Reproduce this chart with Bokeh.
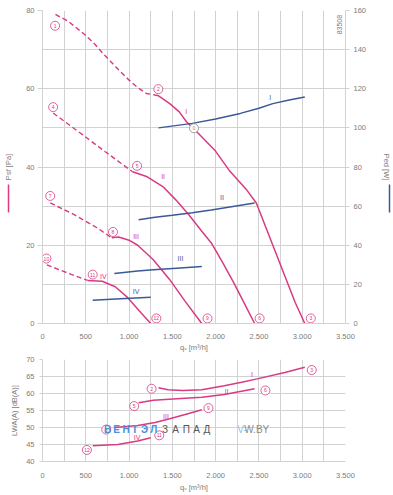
import math
from bokeh.plotting import figure
from bokeh.layouts import column
from bokeh.models import Range1d, LinearAxis, FixedTicker, Label
from bokeh.core.properties import value
from bokeh.embed import file_html
from bokeh.resources import INLINE

# ---------------- data ----------------
q_ticks = [0, 500, 1000, 1500, 2000, 2500, 3000, 3500]
q_minor = [250, 750, 1250, 1750, 2250, 2750, 3250]
q_tick_labels = ["0", "500", "1.000", "1.500", "2.000", "2.500", "3.000", "3.500"]
pa_ticks = [0, 20, 40, 60, 80]
pa_minor = [10, 30, 50, 70]
w_ticks = [0, 20, 40, 60, 80, 100, 120, 140, 160]
db_ticks = [40, 45, 50, 55, 60, 65, 70]

# static pressure curves [Pa]
I_dash_q = [150, 300, 480, 600, 700, 850, 1000, 1100, 1200, 1300]
I_dash_pa = [79, 77.2, 74, 71.5, 69, 65.5, 62.2, 60.3, 58.8, 58.4]
I_q = [1300, 1340, 1470, 1580, 1665, 1765, 1990, 2155, 2360, 2470, 2620, 2770, 2920, 3030]
I_pa = [58.4, 58.2, 56.2, 54.1, 51.5, 49.4, 44.3, 39.2, 34.1, 30.8, 22.3, 13.8, 5.3, 0]

II_dash_q = [123, 465, 725, 910, 1040]
II_dash_pa = [53.8, 48.2, 43.9, 40.9, 38.8]
II_q = [1040, 1210, 1390, 1540, 1690, 1840, 1950, 2080, 2210, 2330, 2450]
II_pa = [38.8, 37.5, 35, 31.6, 27.8, 23.6, 20.6, 15.6, 10.4, 5.2, 0]

III_dash_q = [90, 350, 620, 800]
III_dash_pa = [30.8, 28.0, 24.6, 21.9]
III_q = [800, 880, 1000, 1100, 1280, 1470, 1650, 1840]
III_pa = [21.9, 22.1, 21.3, 20.0, 16.3, 11.2, 5.6, 0]

IV_dash_q = [50, 280, 520]
IV_dash_pa = [15.0, 13.0, 11.0]
IV_q = [520, 690, 840, 985, 1135, 1250]
IV_pa = [11.0, 10.8, 9.4, 6.6, 2.8, 0]

# power input curves [W]
I_w_q = [1340, 1730, 2000, 2285, 2500, 2660, 2850, 3030]
I_w = [100, 102.3, 104.5, 107.4, 110, 112.4, 114.2, 115.8]
II_w_q = [1110, 1300, 1500, 1730, 1950, 2200, 2450]
II_w = [53, 54.3, 55.3, 56.6, 58, 59.8, 61.6]
III_w_q = [830, 1100, 1280, 1550, 1840]
III_w = [25.5, 26.8, 27.5, 28.3, 29.2]
IV_w_q = [580, 900, 1250]
IV_w = [11.9, 12.6, 13.4]

# sound power curves [dB(A)]
I_db_q = [1340, 1450, 1620, 1840, 2100, 2300, 2480, 2800, 3030]
I_db = [61.7, 61.1, 60.9, 61.1, 62.3, 63.3, 64.3, 66.2, 67.7]
II_db_q = [1110, 1280, 1600, 1840, 2100, 2450]
II_db = [57.3, 58, 58.5, 58.9, 59.7, 61.4]
III_db_q = [830, 1100, 1300, 1470, 1700, 1840]
III_db = [50, 50.6, 51.5, 52.6, 54.2, 55.2]
IV_db_q = [580, 870, 1100, 1250]
IV_db = [44.6, 45, 46, 47]

# operating point markers
top_pt_num = ["1", "2", "3", "4", "5", "6", "7", "8", "9", "10", "11", "12"]
top_pt_q = [145, 1338, 3099, 123, 1092, 2508, 89, 814, 1906, 45, 580, 1315]
top_pt_pa = [76.1, 59.9, 1.3, 55.3, 40.3, 1.3, 32.6, 23.4, 1.3, 16.6, 12.5, 1.3]
bot_pt_num = ["2", "3", "5", "6", "8", "9", "11", "12"]
bot_pt_q = [1260, 3110, 1059, 2575, 736, 1917, 1349, 513]
bot_pt_db = [61.4, 66.9, 56.3, 60.9, 49.4, 55.7, 47.7, 43.4]

# curve labels
roman = ["I", "II", "III", "IV"]
pa_lab_q = [1661, 1393, 1081, 702]
pa_lab_y = [54.3, 37.5, 22.2, 12.0]
w_lab_q = [2631, 2073, 1594, 1081]
w_lab_y = [57.8, 32.1, 16.6, 8.2]
db_lab_q = [2419, 2129, 1427, 1092]
db_lab_y = [65.7, 60.6, 53.1, 47.1]

# ---------------- style ----------------
PINK = "#d93a82"
BLUE = "#3c5997"
GRID = "#d2d2d2"
TXT = "#7c7c7c"
FONT = "Liberation Sans"
FS = "7.5px"
W = 393


def style_axis(ax):
    ax.axis_line_color = GRID
    ax.major_tick_line_color = GRID
    ax.minor_tick_line_color = None
    ax.major_label_text_color = TXT
    ax.major_label_text_font = FONT
    ax.major_label_text_font_size = FS
    ax.axis_label_text_color = TXT
    ax.axis_label_text_font = FONT
    ax.axis_label_text_font_size = FS
    ax.axis_label_text_font_style = "normal"
    ax.major_tick_in = 0


def base_fig(h, y0, y1, top):
    p = figure(width=W, height=h, x_range=Range1d(0, 3500), y_range=Range1d(y0, y1),
               output_backend="svg", toolbar_location=None,
               min_border_left=35, min_border_right=W - 35 - 314, min_border_top=top,
               min_border_bottom=30)
    p.outline_line_color = None
    p.xaxis.ticker = FixedTicker(ticks=q_ticks, minor_ticks=q_minor)
    p.xaxis.major_label_overrides = dict(zip(q_ticks, q_tick_labels))
    for ax in p.axis:
        style_axis(ax)
    p.xaxis.major_tick_out = 0
    p.xaxis.axis_label = "qᵥ [m³/h]"
    p.xgrid.grid_line_color = GRID
    p.xgrid.minor_grid_line_color = GRID
    p.ygrid.grid_line_color = GRID
    p.ygrid.minor_grid_line_color = GRID
    return p


def marker_axis(lo, hi, color, label, standoff):
    ax = LinearAxis(ticker=FixedTicker(ticks=[]), bounds=(lo, hi))
    style_axis(ax)
    ax.axis_line_color = color
    ax.axis_line_width = 1.5
    ax.major_tick_line_color = None
    ax.axis_label = label
    ax.axis_label_standoff = standoff
    return ax


# ---------------- top chart ----------------
p1 = base_fig(354, 0, 80, 10)
p1.xaxis.major_label_standoff = 6
p1.xaxis.axis_label_standoff = 1
p1.yaxis.ticker = FixedTicker(ticks=pa_ticks, minor_ticks=pa_minor)
p1.yaxis.major_tick_out = 5
p1.yaxis.major_label_standoff = 3
p1.yaxis.axis_label = " "
p1.yaxis.axis_label_standoff = 3
p1.add_layout(marker_axis(28.3, 35.4, PINK, "Psf [Pa]", -4), "left")

p1.extra_y_ranges = {"w": Range1d(0, 160)}
rax = LinearAxis(y_range_name="w", ticker=FixedTicker(ticks=w_ticks))
style_axis(rax)
rax.major_tick_out = 4
rax.major_label_standoff = 4
rax.axis_label = " "
rax.axis_label_standoff = 8
p1.add_layout(rax, "right")
p1.add_layout(marker_axis(28.3, 35.4, BLUE, "Ped [W]", -8), "right")

for dq, dp, sq, sp in [(I_dash_q, I_dash_pa, I_q, I_pa), (II_dash_q, II_dash_pa, II_q, II_pa),
                       (III_dash_q, III_dash_pa, III_q, III_pa), (IV_dash_q, IV_dash_pa, IV_q, IV_pa)]:
    p1.line(dq, dp, line_color=PINK, line_width=1.4, line_dash="5 3")
    p1.line(sq, sp, line_color=PINK, line_width=1.5)

for wq, ww in [(I_w_q, I_w), (II_w_q, II_w), (III_w_q, III_w), (IV_w_q, IV_w)]:
    p1.line(wq, ww, line_color=BLUE, line_width=1.5, y_range_name="w")

p1.text(pa_lab_q, pa_lab_y, text=roman, text_color=PINK, text_font=value(FONT),
        text_font_size="7px", text_align="center", text_baseline="middle")
p1.text(w_lab_q, w_lab_y, text=roman, text_color=BLUE, text_font=value(FONT),
        text_font_size="7px", text_align="center", text_baseline="middle")

p1.scatter(top_pt_q, top_pt_pa, marker="circle", size=9, line_color=PINK, line_width=0.8,
           fill_color="white")
p1.text(top_pt_q, top_pt_pa, text=top_pt_num, text_color=PINK, text_font=value(FONT),
        text_font_size="5px", text_align="center", text_baseline="middle")
p1.scatter([1750], [49.9], marker="circle", size=9, line_color="#888888", line_width=0.8,
           fill_color="white")
p1.text([1750], [49.9], text=["0"], text_color="#888888", text_font=value(FONT),
        text_font_size="5px", text_align="center", text_baseline="middle")

p1.add_layout(Label(x=3433, y=76.4, text="83508", text_font=FONT, text_font_size="7px",
                    text_color=TXT, angle=math.pi / 2, text_align="center",
                    text_baseline="middle"))

# ---------------- bottom chart ----------------
p2 = base_fig(140, 40, 70, 5)
p2.xaxis.major_label_standoff = 7
p2.xaxis.axis_label_standoff = 2
p2.yaxis.ticker = FixedTicker(ticks=db_ticks)
p2.yaxis.major_tick_out = 3
p2.yaxis.major_label_standoff = 5
p2.yaxis.axis_label = "LWA(A) [dB(A)]"
p2.yaxis.axis_label_standoff = 4

for dq, dd in [(I_db_q, I_db), (II_db_q, II_db), (III_db_q, III_db), (IV_db_q, IV_db)]:
    p2.line(dq, dd, line_color=PINK, line_width=1.5)

p2.text(db_lab_q, db_lab_y, text=roman, text_color=PINK, text_font=value(FONT),
        text_font_size="7px", text_align="center", text_baseline="middle")
p2.scatter(bot_pt_q, bot_pt_db, marker="circle", size=9, line_color=PINK, line_width=0.8,
           fill_color="white")
p2.text(bot_pt_q, bot_pt_db, text=bot_pt_num, text_color=PINK, text_font=value(FONT),
        text_font_size="5px", text_align="center", text_baseline="middle")


def wm(x, s, size, color, style="normal"):
    p2.add_layout(Label(x=x, y=49.4, text=s, text_font=FONT, text_font_size=size,
                        text_color=color, text_align="left", text_baseline="middle",
                        text_font_style=style))


for i, ch in enumerate("ВЕНТЭЛ"):
    wm(710 + i * 107, ch, "10px", "#4a90dc", "bold")
for i, ch in enumerate("ЗАПАД"):
    wm(1380 + i * 120, ch, "10px", "#555555")
wm(2251, "V-", "10px", "#8ec4ee")
wm(2330, "W.BY", "10px", "#8a8a8a")

layout = column(p1, p2, spacing=0)
open("out.html", "w").write(file_html(layout, INLINE))
